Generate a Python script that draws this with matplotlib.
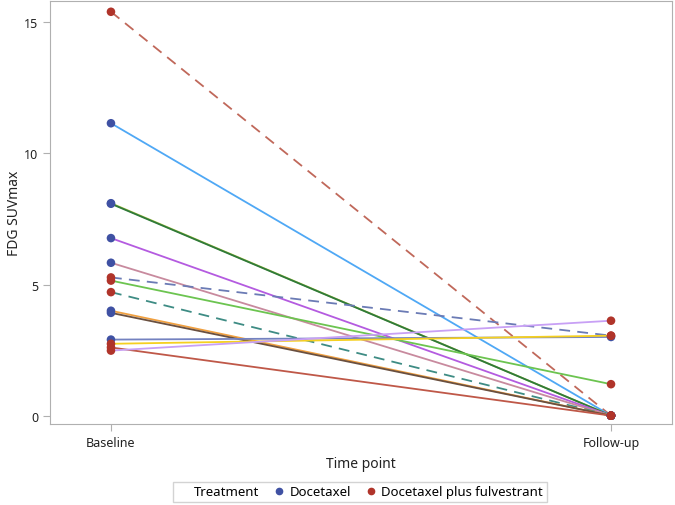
import matplotlib.pyplot as plt
from matplotlib.lines import Line2D

plt.rcParams['font.family'] = ['Noto Sans', 'DejaVu Sans']

timepoints = ["Baseline", "Follow-up"]
baseline = [15.4, 11.15, 8.1, 8.08, 6.77, 5.83, 5.27, 5.15, 4.71, 4.0, 3.92, 2.9, 2.74, 2.6, 2.48]
followup = [0.0, 0.0, 0.0, 0.0, 0.0, 0.0, 3.05, 1.2, 0.0, 0.0, 0.0, 3.0, 3.05, 0.0, 3.62]
treatment = ["F", "D", "D", "D", "D", "D", "F", "F", "F", "D", "D", "D", "F", "F", "F"]
line_colors = ["#C0685A", "#4FA8F5", "#A8C040", "#2F7A3A", "#B45BE0", "#C88A9E",
               "#6B7BB5", "#6CC450", "#3E8C84", "#F0A040", "#6A5040", "#7482C0",
               "#F5D020", "#BF5848", "#C8A0F5"]
dashed = [True, False, False, False, False, False, True, False, True,
          False, False, False, False, False, False]

group_colors = {"D": "#3F51A3", "F": "#B0342A"}
group_names = {"D": "Docetaxel", "F": "Docetaxel plus fulvestrant"}

fig = plt.figure(figsize=(6.75, 5.06), dpi=100)
ax = fig.add_axes([0.074, 0.16, 0.9216, 0.836])

x = [0, 1]
for b, f, c, d in zip(baseline, followup, line_colors, dashed):
    ls = (0, (6, 4)) if d else '-'
    ax.plot(x, [b, f], color=c, lw=1.3, linestyle=ls, zorder=2)

# markers: blue first, red on top
for g in ["D", "F"]:
    for b, f, t in zip(baseline, followup, treatment):
        if t == g:
            ax.scatter(x, [b, f], s=38, color=group_colors[g], zorder=3, edgecolors='none')

ax.set_xlim(-0.122, 1.122)
ax.set_ylim(-0.32, 15.81)
ax.set_xticks(x)
ax.set_xticklabels(timepoints)
ax.set_yticks([0, 5, 10, 15])
ax.set_xlabel("Time point", fontsize=10, color="#222222", labelpad=5)
ax.set_ylabel("FDG SUVmax", fontsize=10, color="#222222")
ax.yaxis.set_label_coords(-0.045, 0.5)
for s in ax.spines.values():
    s.set_color("#B0B0B0")
ax.tick_params(colors="#B0B0B0", labelcolor="#222222", labelsize=9, length=5)

handles = [Line2D([], [], linestyle='none'),
           Line2D([], [], marker='o', linestyle='none', color=group_colors["D"], markersize=4.5),
           Line2D([], [], marker='o', linestyle='none', color=group_colors["F"], markersize=4.5)]
labels = ["Treatment", group_names["D"], group_names["F"]]
leg = fig.legend(handles, labels, ncol=3, loc='lower center', bbox_to_anchor=(0.533, -0.008),
                 frameon=True, fancybox=False, fontsize=9.5, handlelength=1.0,
                 handletextpad=0.3, columnspacing=1.0, borderpad=0.3)
leg.get_frame().set_edgecolor("#C8C8C8")
leg.get_frame().set_linewidth(1.0)

fig.savefig("out.png", dpi=100)
